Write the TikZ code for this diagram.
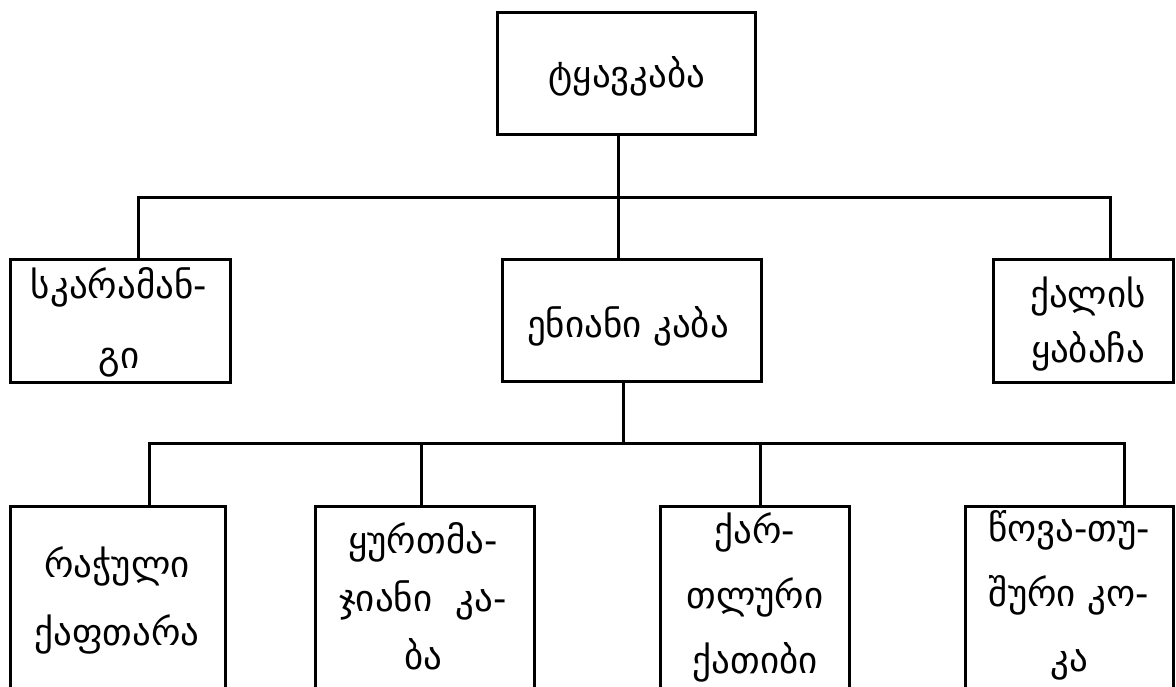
\documentclass[tikz,border=0pt]{standalone}
\usepackage{fontspec}
\setmainfont{DejaVu Sans}
\begin{document}
\begin{tikzpicture}[x=1pt,y=-1pt,
  box/.style={draw,line width=3pt,inner sep=0pt,outer sep=0pt,rectangle},
  lbl/.style={anchor=base,align=center,inner sep=0pt,font=\fontsize{37}{#1}\selectfont},
  lbl/.default=70,
  conn/.style={line width=3pt}]
\useasboundingbox (0,0) rectangle (1176,686);
\clip (0,0) rectangle (1176,686);
% boxes
\node[box,minimum width=258pt,minimum height=122pt] (n0) at (626,73) {};
\node[box,minimum width=220pt,minimum height=123pt] (n1) at (120,320.5) {};
\node[box,minimum width=259pt,minimum height=122pt] (n2) at (631.5,320) {};
\node[box,minimum width=180pt,minimum height=123pt] (n3) at (1083,320.5) {};
\node[box,minimum width=215pt,minimum height=214pt] (b1) at (117.5,613) {};
\node[box,minimum width=219pt,minimum height=214pt] (b2) at (424.5,613) {};
\node[box,minimum width=189pt,minimum height=214pt] (b3) at (754.5,613) {};
\node[box,minimum width=208pt,minimum height=214pt] (b4) at (1069,613) {};
% labels (anchor = baseline of the last line)
\node[lbl] (t0) at (627,87) {ტყავკაბა};
\node[lbl=70] (t1) at (119,368) {სკარამან-\\გი};
\node[lbl] (t2) at (628,337) {ენიანი კაბა};
\node[lbl=55] (t3) at (1088,362) {ქალის\\ყაბაჩა};
\node[lbl=68] (u1) at (117,645) {რაჭული\\ქაფთარა};
\node[lbl=58] (u2) at (423,669) {ყურთმა-\\ჯიანი\ \ კა-\\ბა};
\node[lbl=65] (u3) at (755,673) {ქარ-\\თლური\\ქათიბი};
\node[lbl=65] (u4) at (1069,671) {წოვა-თუ-\\შური კო-\\კა};
% junction coordinates
\coordinate (j1) at (618,197);
\coordinate (bL) at (138,197);
\coordinate (bR) at (1110,197);
\coordinate (j2) at (623,443);
\coordinate (cL) at (149,443);
\coordinate (cR) at (1124,443);
\coordinate (c2) at (421,443);
\coordinate (c3) at (760,443);
% connectors
\draw[conn] (n0.south -| j1) -- (n2.north -| j1);
\draw[conn] (n1.north -| bL) -- (bL) -- (bR) -- (n3.north -| bR);
\draw[conn] (n2.south -| j2) -- (j2);
\draw[conn] (b1.north -| cL) -- (cL) -- (cR) -- (b4.north -| cR);
\draw[conn] (c2) -- (b2.north -| c2);
\draw[conn] (c3) -- (b3.north -| c3);
\end{tikzpicture}
\end{document}
